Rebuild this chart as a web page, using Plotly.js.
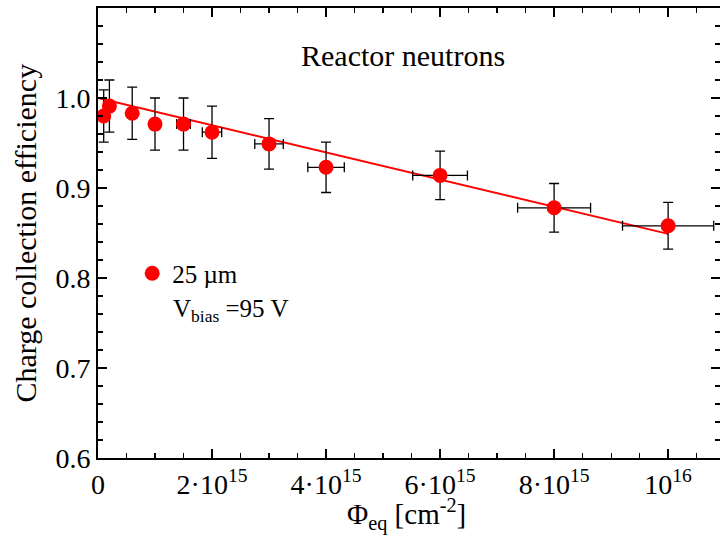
<!DOCTYPE html>
<html>
<head>
<meta charset="utf-8">
<script src="https://cdn.plot.ly/plotly-3.0.1.min.js"></script>
<style>html,body{margin:0;padding:0;background:#fff}#chart{width:720px;height:535px}</style>
</head>
<body>
<div id="chart"></div>
<script>
// Data
const fluence = [0.1e15, 0.2e15, 0.6e15, 1.0e15, 1.5e15, 2.0e15, 3.0e15, 4.0e15, 6.0e15, 8.0e15, 1.0e16];
const cce     = [0.980, 0.991, 0.983, 0.971, 0.971, 0.962, 0.949, 0.923, 0.914, 0.878, 0.858];
const cceErr  = [0.029, 0.029, 0.029, 0.029, 0.029, 0.029, 0.028, 0.028, 0.027, 0.027, 0.026];
const fluenceErr = [0.008e15, 0.016e15, 0.048e15, 0.08e15, 0.12e15, 0.17e15, 0.25e15, 0.32e15, 0.48e15, 0.64e15, 0.8e15];
const fitX = [0, 1.0e16];
const fitY = [1.0, 0.849];
const xTickVals = [0, 2e15, 4e15, 6e15, 8e15, 1e16];
const xTickText = ['0', '2·10<sup>15</sup>', '4·10<sup>15</sup>', '6·10<sup>15</sup>', '8·10<sup>15</sup>', '10<sup>16</sup>'];
const yTickVals = [0.6, 0.7, 0.8, 0.9, 1.0];
const yTickText = ['0.6', '0.7', '0.8', '0.9', '1.0'];

const serif = 'Liberation Serif';

const traces = [
  {
    x: fitX, y: fitY, mode: 'lines', type: 'scatter',
    line: {color: '#ff0000', width: 2}, showlegend: false, hoverinfo: 'skip'
  },
  {
    x: fluence, y: cce, mode: 'markers', type: 'scatter', name: '25 µm',
    marker: {color: '#ff0000', size: 15, symbol: 'circle'},
    error_y: {type: 'data', array: cceErr, visible: true, color: '#000', thickness: 1.3, width: 5},
    error_x: {type: 'data', array: fluenceErr, visible: true, color: '#000', thickness: 1.3, width: 5}
  }
];

const axisCommon = {
  showline: true, linecolor: '#000', linewidth: 2, mirror: 'allticks',
  ticks: 'inside', ticklen: 9, tickwidth: 1.5, tickcolor: '#000',
  showgrid: false, zeroline: false, automargin: false,
  tickfont: {family: serif, size: 28, color: '#000'}
};

const layout = {
  width: 720, height: 535,
  margin: {l: 98, r: 0, t: 8, b: 77},
  paper_bgcolor: '#fff', plot_bgcolor: '#fff',
  font: {family: serif, color: '#000'},
  showlegend: true,
  legend: {x: 0.055, y: 0.41, xanchor: 'left', yanchor: 'middle', bgcolor: 'rgba(0,0,0,0)',
           font: {family: serif, size: 25, color: '#000'}},
  xaxis: Object.assign({}, axisCommon, {
    range: [0, 1.091e16], tickmode: 'array', tickvals: xTickVals, ticktext: xTickText,
    ticklabelstandoff: 0,
    minor: {dtick: 0.5e15, ticks: 'inside', ticklen: 5, tickwidth: 1.2, tickcolor: '#000'}
  }),
  yaxis: Object.assign({}, axisCommon, {
    range: [0.6, 1.1], tickmode: 'array', tickvals: yTickVals, ticktext: yTickText,
    minor: {dtick: 0.02, ticks: 'inside', ticklen: 5, tickwidth: 1.2, tickcolor: '#000'}
  }),
  annotations: [
    {text: 'Reactor neutrons', xref: 'paper', yref: 'paper', x: 0.49, y: 0.895, showarrow: false,
     xanchor: 'center', yanchor: 'middle', font: {family: serif, size: 30, color: '#000'}},
    {text: 'V<sub>bias</sub> =95 V', xref: 'paper', yref: 'paper', x: 0.118, y: 0.328, showarrow: false,
     xanchor: 'left', yanchor: 'middle', font: {family: serif, size: 25, color: '#000'}},
    {text: 'Φ<sub>eq</sub> [cm<sup>-2</sup>]', xref: 'paper', yref: 'paper', x: 0.496, y: -0.126, showarrow: false,
     xanchor: 'center', yanchor: 'middle', font: {family: serif, size: 29, color: '#000'}},
    {text: 'Charge collection efficiency', xref: 'paper', yref: 'paper', x: -0.118, y: 0.5, showarrow: false,
     textangle: -90, xanchor: 'center', yanchor: 'middle', font: {family: serif, size: 30, color: '#000'}}
  ]
};

Plotly.newPlot('chart', traces, layout, {displayModeBar: false, staticPlot: true});
</script>
</body>
</html>
